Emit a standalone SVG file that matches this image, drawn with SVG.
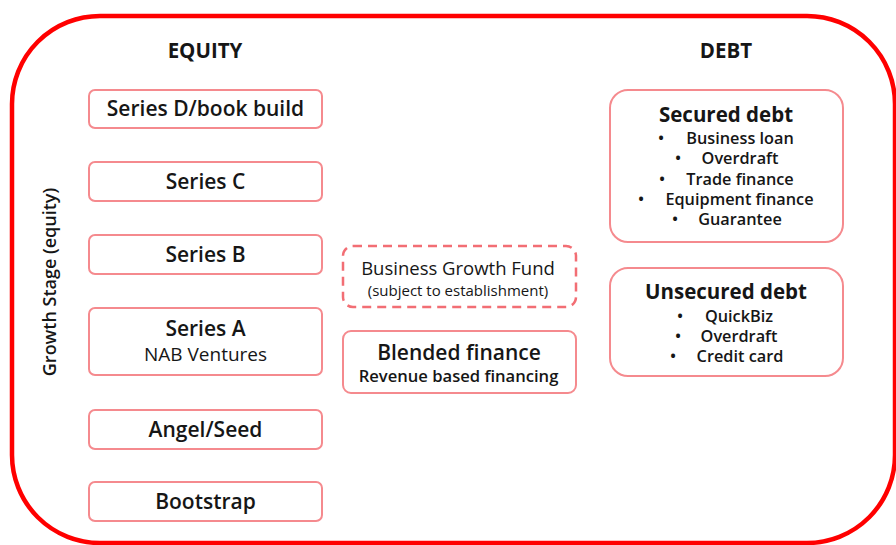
<svg xmlns="http://www.w3.org/2000/svg" width="896" height="545" viewBox="0 0 896 545">
  <style>
    text { font-family: "Open Sans", "Noto Sans", "Liberation Sans", sans-serif; fill: #161616; text-anchor: middle; }
    .frame { fill: none; stroke: #ff0000; stroke-width: 4.5; }
    .box { fill: #ffffff; stroke: #f58a8e; stroke-width: 2; }
    .dash { fill: #ffffff; stroke: #f26e74; stroke-width: 2.5; stroke-dasharray: 9 6; }
    .head { font-size: 20.5px; font-weight: 700; }
    .lbl { font-size: 21px; font-weight: 600; }
    .title { font-size: 20.5px; font-weight: 700; }
    .item { font-size: 16.3px; font-weight: 600; }
    .sub { font-size: 19px; font-weight: 500; }
    .side { font-size: 18px; font-weight: 600; }
  </style>

  <rect class="frame" x="12" y="16" width="883" height="527" rx="88" ry="88"/>

  <text class="head" x="205" y="58">EQUITY</text>
  <text class="head" x="726" y="58">DEBT</text>
  <text class="side" transform="translate(56 282) rotate(-90)">Growth Stage (equity)</text>

  <g id="series-d">
    <rect class="box" x="89" y="90" width="233" height="38" rx="6"/>
    <text class="lbl" x="205.5" y="116">Series D/book build</text>
  </g>
  <g id="series-c">
    <rect class="box" x="89" y="162" width="233" height="39" rx="6"/>
    <text class="lbl" x="205.5" y="189">Series C</text>
  </g>
  <g id="series-b">
    <rect class="box" x="89" y="235" width="233" height="39" rx="6"/>
    <text class="lbl" x="205.5" y="262">Series B</text>
  </g>
  <g id="series-a">
    <rect class="box" x="89" y="308" width="233" height="67" rx="6"/>
    <text class="lbl" x="205.5" y="336">Series A</text>
    <text class="sub" x="205.5" y="361">NAB Ventures</text>
  </g>
  <g id="angel-seed">
    <rect class="box" x="89" y="410" width="233" height="39" rx="6"/>
    <text class="lbl" x="205.5" y="437">Angel/Seed</text>
  </g>
  <g id="bootstrap">
    <rect class="box" x="89" y="482" width="233" height="39" rx="6"/>
    <text class="lbl" x="205.5" y="509">Bootstrap</text>
  </g>

  <g id="business-growth-fund">
    <rect class="dash" x="343" y="246" width="233" height="61" rx="10"/>
    <text x="458" y="275" style="font-size:18.5px;font-weight:500">Business Growth Fund</text>
    <text x="458" y="296" style="font-size:15px;font-weight:500">(subject to establishment)</text>
  </g>
  <g id="blended-finance">
    <rect class="box" x="343" y="331" width="233" height="62" rx="8"/>
    <text class="lbl" x="459" y="360">Blended finance</text>
    <text x="458.5" y="382" style="font-size:16.6px;font-weight:600">Revenue based financing</text>
  </g>

  <g id="secured-debt">
    <rect class="box" x="610" y="90" width="233" height="152" rx="18"/>
    <text class="title" x="726" y="122">Secured debt</text>
    <text class="item" x="661" y="144">•</text><text class="item" x="740" y="144">Business loan</text>
    <text class="item" x="678" y="164">•</text><text class="item" x="740" y="164">Overdraft</text>
    <text class="item" x="662" y="185">•</text><text class="item" x="740" y="185">Trade finance</text>
    <text class="item" x="641" y="205">•</text><text class="item" x="739.5" y="205">Equipment finance</text>
    <text class="item" x="675" y="225">•</text><text class="item" x="740" y="225">Guarantee</text>
  </g>
  <g id="unsecured-debt">
    <rect class="box" x="610" y="268" width="233" height="108" rx="18"/>
    <text class="title" x="726" y="299">Unsecured debt</text>
    <text class="item" x="680" y="322">•</text><text class="item" x="739" y="322">QuickBiz</text>
    <text class="item" x="678" y="342">•</text><text class="item" x="739" y="342">Overdraft</text>
    <text class="item" x="673" y="362">•</text><text class="item" x="740" y="362">Credit card</text>
  </g>
</svg>
